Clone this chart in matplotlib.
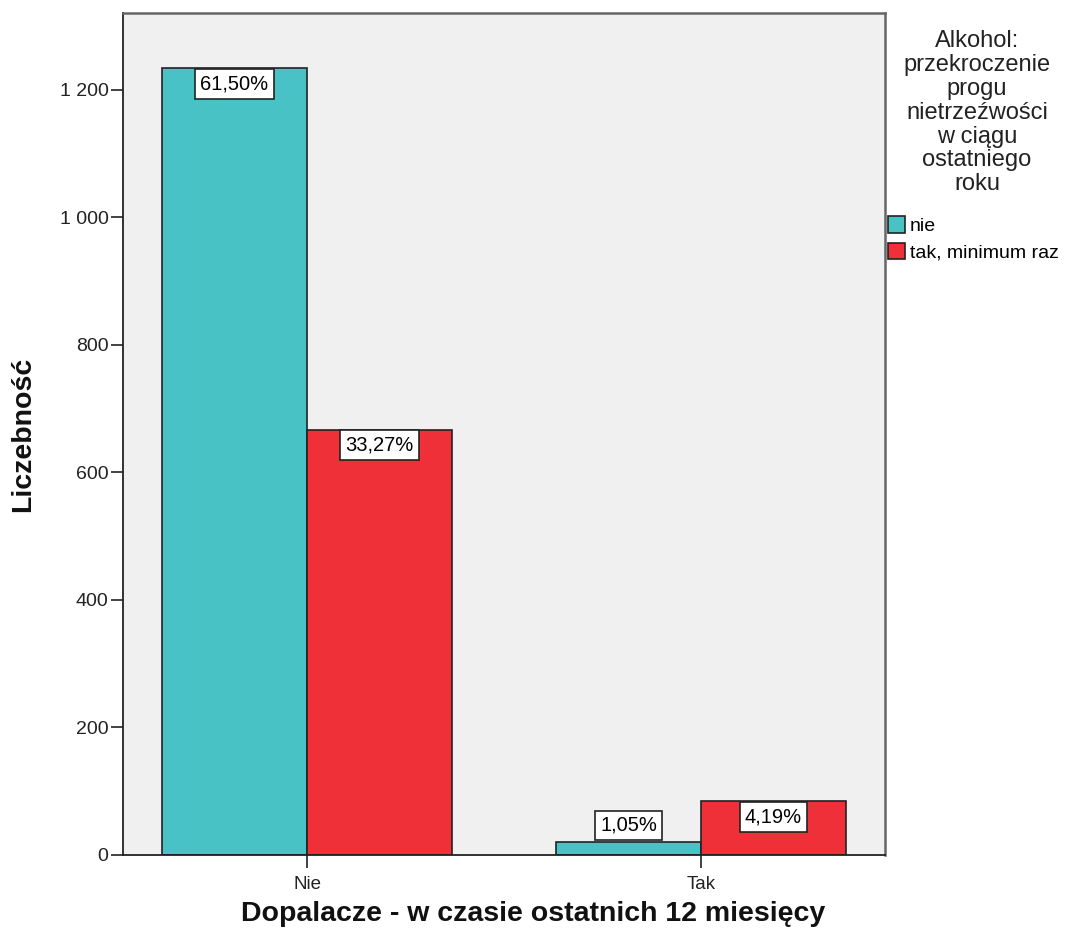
import matplotlib
matplotlib.use('Agg')
import matplotlib.pyplot as plt
import numpy as np
from matplotlib.ticker import FuncFormatter
from matplotlib.patches import Patch

# Counts (N = 2005)
categories = ['Nie', 'Tak']
counts_nie = [1233, 21]
counts_tak = [667, 84]
pct_nie = ['61,50%', '1,05%']
pct_tak = ['33,27%', '4,19%']
series_names = ['nie', 'tak, minimum raz']
legend_title = 'Alkohol:\nprzekroczenie\nprogu\nnietrzeźwości\nw ciągu\nostatniego\nroku'

col_nie = '#48C2C5'
col_tak = '#EF3038'

plt.rcParams['font.family'] = ['Liberation Sans', 'DejaVu Sans']

fig = plt.figure(figsize=(10.67, 9.41), dpi=100)
ax = fig.add_axes([0.1153, 0.0914, 0.8294 - 0.1153, 0.9862 - 0.0914])
ax.set_facecolor('#F0F0F0')

x = np.arange(len(categories))
width = 0.368

b1 = ax.bar(x - width/2, counts_nie, width, color=col_nie, edgecolor='#222222', linewidth=1.2, zorder=2)
b2 = ax.bar(x + width/2, counts_tak, width, color=col_tak, edgecolor='#222222', linewidth=1.2, zorder=2)

pad = 0.26
fs_lab = 14.5
for bars, labels in [(b1, pct_nie), (b2, pct_tak)]:
    for bar, lab in zip(bars, labels):
        cx = bar.get_x() + bar.get_width()/2
        h = bar.get_height()
        if h < 50:
            # too short for the box, put it on top of the bar
            ax.annotate(lab, (cx, h), xytext=(0, pad*fs_lab + 1), textcoords='offset points',
                        ha='center', va='bottom', fontsize=fs_lab, zorder=3,
                        bbox=dict(boxstyle='square,pad=%.2f' % pad, fc='white', ec='#222222', lw=1.2))
        else:
            ax.annotate(lab, (cx, h), xytext=(0, -pad*fs_lab - 0.5), textcoords='offset points',
                        ha='center', va='top', fontsize=fs_lab, zorder=3,
                        bbox=dict(boxstyle='square,pad=%.2f' % pad, fc='white', ec='#222222', lw=1.2))

ax.set_xlim(-0.467, 1.467)
ax.set_ylim(0, 1320)
ax.set_xticks(x)
ax.set_xticklabels(categories)
ax.set_yticks(np.arange(0, 1201, 200))
ax.yaxis.set_major_formatter(FuncFormatter(lambda v, p: f'{int(v):,}'.replace(',', ' ')))
ax.tick_params(axis='x', length=9, width=1.2, pad=6, labelsize=13.5, colors='#222222')
ax.tick_params(axis='y', length=9, width=1.2, pad=1.5, labelsize=14, colors='#222222')

for s in ['left', 'bottom']:
    ax.spines[s].set_color('#222222')
    ax.spines[s].set_linewidth(1.3)
for s in ['top', 'right']:
    ax.spines[s].set_color('#666666')
    ax.spines[s].set_linewidth(1.8)

fig.text(0.5, 0.029, 'Dopalacze - w czasie ostatnich 12 miesięcy', ha='center', va='center',
         fontsize=20.5, fontweight='bold', color='#111111')
fig.text(0.0216, 0.5 * (0.0914 + 0.9862), 'Liczebność', ha='center', va='center', rotation=90,
         fontsize=20.5, fontweight='bold', color='#111111')

# legend title drawn separately so it stays centred while entries are left aligned
fig.text(0.9157, 0.968, legend_title, ha='center', va='top', multialignment='center',
         fontsize=17, linespacing=1.11, color='#222222')

handles = [Patch(facecolor=col_nie, edgecolor='#222222', lw=1.2),
           Patch(facecolor=col_tak, edgecolor='#222222', lw=1.2)]
fig.legend(handles, series_names, loc='upper left', bbox_to_anchor=(0.832, 0.770),
           frameon=False, fontsize=14, handlelength=0.9, handleheight=0.9,
           handletextpad=0.25, labelspacing=0.4, borderpad=0, borderaxespad=0)

fig.savefig('out.png', dpi=100)
